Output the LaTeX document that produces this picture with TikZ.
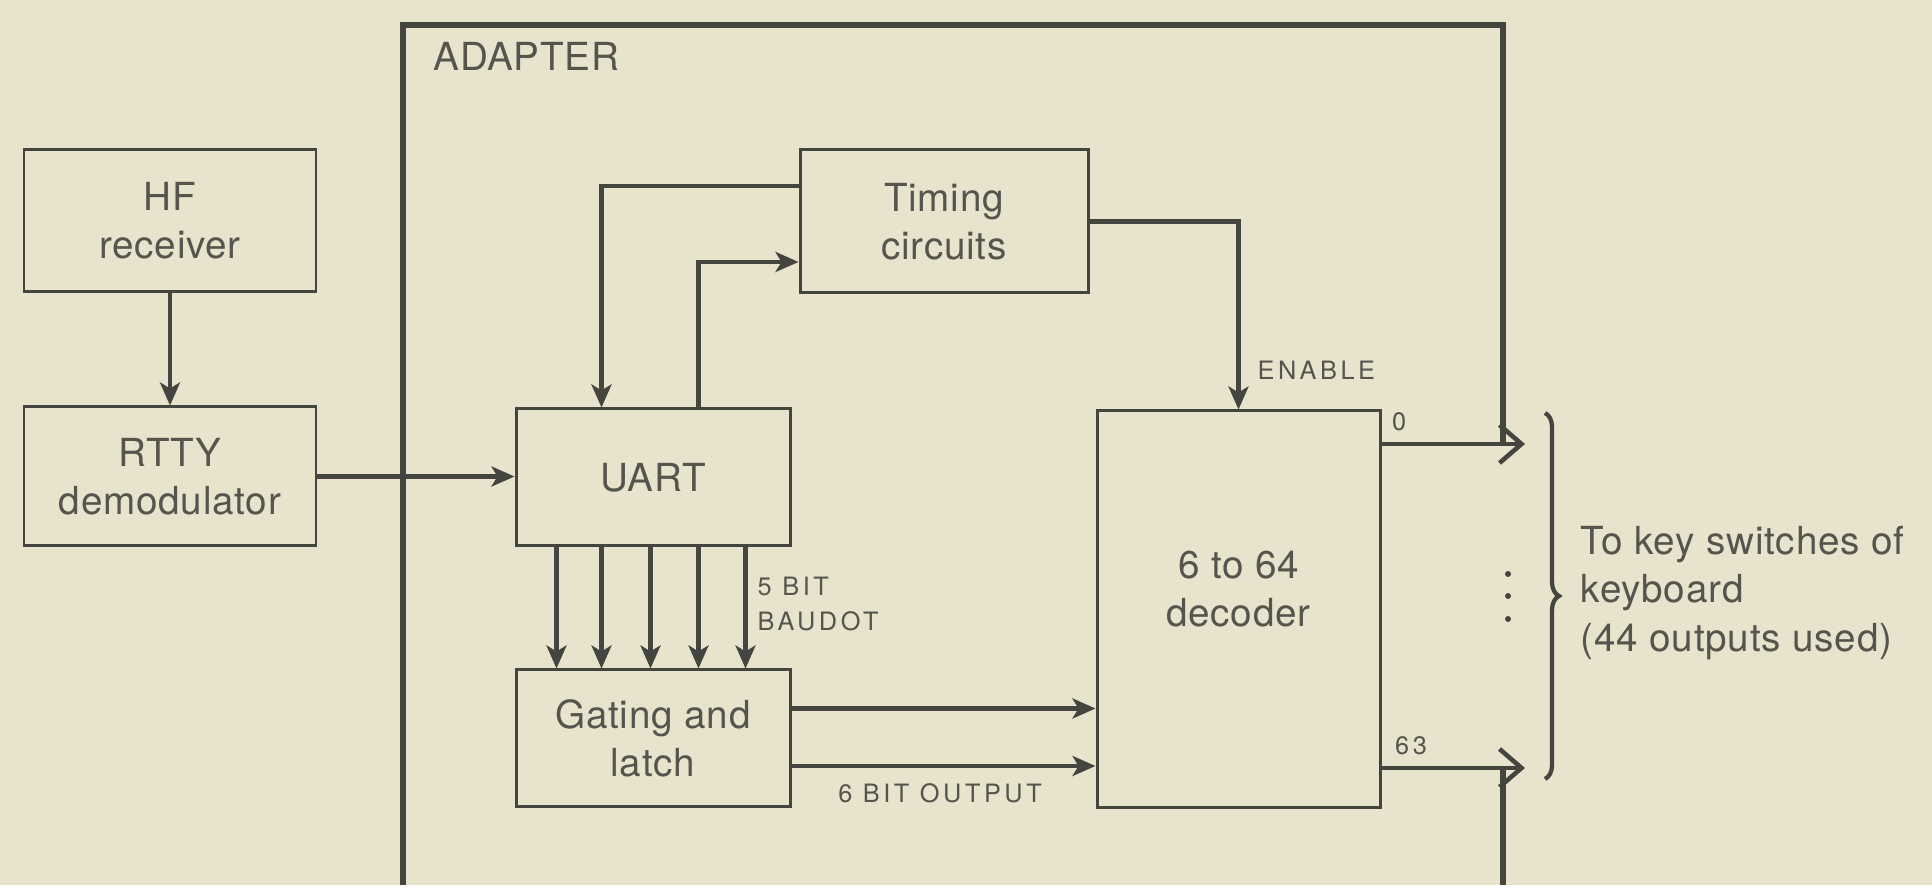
\documentclass[tikz,border=0pt]{standalone}
\usepackage{xcolor}
\usepackage{fontspec}
\setmainfont{TeX Gyre Heros}[LetterSpace=2]
\newfontfamily\tagfont{TeX Gyre Heros}[LetterSpace=14]
\usepackage{tikz}
\usetikzlibrary{arrows.meta, positioning, calc, decorations.pathreplacing}
\definecolor{paper}{HTML}{E7E3CC}
\definecolor{ink}{HTML}{45453F}
\definecolor{inktext}{HTML}{55554E}

\begin{document}
\begin{tikzpicture}[font=\fontsize{11}{13.7}\selectfont,
  block/.style={draw=ink, line width=0.85pt, fill=paper, text=inktext, align=center, inner sep=0pt},
  note/.style={text=inktext, inner sep=0pt},
  tag/.style={text=inktext, inner sep=0pt, font=\tagfont\fontsize{7.2}{9.7}\selectfont},
  flow/.style={draw=ink, line width=1.3pt, -{Stealth[length=2.3mm, width=2mm, inset=0.6mm]}},
  keyout/.style={draw=ink, line width=1.3pt, -{Straight Barb[length=2.2mm, width=3.8mm]}}]
  \fill[paper] (0,0) rectangle (19.32,8.85);
  % Receiver side
  \node[block, minimum width=2.92cm, minimum height=1.42cm] (hf) at (1.70,6.64) {HF\\receiver};
  \node[block, minimum width=2.92cm, minimum height=1.39cm] (rtty) at (1.70,4.085) {RTTY\\demodulator};
  % Adapter frame
  \draw[ink, line width=1.6pt] (4.03,0) |- (15.03,8.60) -- (15.03,4.41);
  \draw[ink, line width=1.6pt] (15.03,1.17) -- (15.03,0);
  \node[note, anchor=west] (adapterlbl) at (4.33,8.29) {ADAPTER};
  % Adapter blocks
  \node[block, minimum width=2.88cm, minimum height=1.43cm] (timing) at (9.44,6.635) {Timing\\circuits};
  \node[block, minimum width=2.74cm, minimum height=1.37cm] (uart) at (6.53,4.075) {UART};
  \node[block, minimum width=2.74cm, minimum height=1.37cm] (gate) at (6.53,1.465) {Gating and\\latch};
  \node[block, minimum width=2.83cm, minimum height=3.97cm] (decoder) at (12.385,2.755) {};
  \node[note, align=center] (dectext) at ([yshift=0.2cm]decoder.center) {6 to 64\\decoder};
  % Connections
  \draw[flow] (hf) -- (rtty);
  \draw[flow] (rtty.east) -- (rtty.east -| uart.west);
  \draw[flow] ([yshift=0.355cm]timing.west) -| ([xshift=0.87cm]uart.north west);
  \draw[flow] ([xshift=1.84cm]uart.north west) |- ([yshift=-0.405cm]timing.west);
  \foreach \dx in {0.42,0.87,1.36,1.84,2.31}
    \draw[flow] ([xshift=\dx cm]uart.south west) -- ([xshift=\dx cm]gate.north west);
  \draw[flow] (timing.east) -| (decoder.north);
  \coordinate (g1) at ([yshift=0.3cm]gate.east);
  \coordinate (g2) at ([yshift=-0.275cm]gate.east);
  \draw[flow] (g1) -- (g1 -| decoder.west);
  \draw[flow] (g2) -- (g2 -| decoder.west);
  % labels on the lines
  \node[tag, anchor=west, align=left] (baudot) at (7.57,2.81) {5 BIT\\BAUDOT};
  \node[tag] (sixbit) at (9.40,0.92) {6 BIT OUTPUT};
  \node[tag, anchor=west] (enable) at (12.57,5.15) {ENABLE};
  % Decoder outputs
  \coordinate (out0) at (15.25,4.41);
  \coordinate (out63) at (15.25,1.17);
  \draw[keyout] (decoder.east |- out0) -- (out0);
  \draw[keyout] (decoder.east |- out63) -- (out63);
  \node[tag, anchor=south west] (lbl0) at ([xshift=0.1cm, yshift=0.12cm]decoder.east |- out0) {0};
  \node[tag, anchor=south west] (lbl63) at ([xshift=0.13cm, yshift=0.12cm]decoder.east |- out63) {63};
  \foreach \y in {3.11,2.89,2.66}
    \fill[ink] (15.08,\y) circle (0.03);
  \draw[ink, line width=1.2pt, decorate, decoration={brace, amplitude=0.14cm}] (15.45,4.72) -- (15.45,1.06);
  \node[note, anchor=west, align=left] (keys) at (15.80,2.92) {To key switches of\\keyboard\\(44 outputs used)};
\end{tikzpicture}
\end{document}
